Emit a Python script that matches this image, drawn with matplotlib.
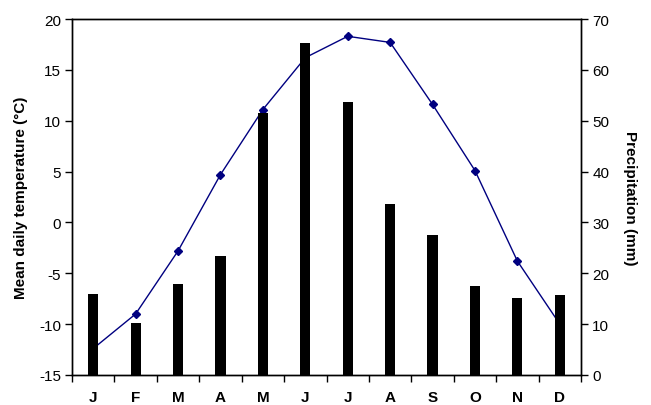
import matplotlib
matplotlib.use("Agg")
import matplotlib.pyplot as plt
import numpy as np

plt.rcParams['font.family'] = ['Liberation Sans', 'DejaVu Sans']
plt.rcParams['axes.unicode_minus'] = False

months = ["J", "F", "M", "A", "M", "J", "J", "A", "S", "O", "N", "D"]
temperature = [-12.4, -9.0, -2.8, 4.7, 11.1, 16.2, 18.3, 17.7, 11.6, 5.1, -3.8, -10.0]
precipitation = [16.0, 10.2, 17.9, 23.4, 51.5, 65.2, 53.7, 33.6, 27.5, 17.5, 15.1, 15.7]

fig = plt.figure(figsize=(6.51, 4.06), dpi=100)
ax1 = fig.add_axes([0.1106, 0.0739, 0.7819, 0.8768])
ax2 = ax1.twinx()

x = np.arange(len(months))
ax1.plot(x, temperature, color='#000080', lw=1.0, marker='D', markersize=4.5,
         markerfacecolor='#000080', markeredgecolor='#000080')
ax2.bar(x, precipitation, width=0.24, color='black', zorder=3)

ax1.set_xlim(-0.5, 11.5)
ax1.set_ylim(-15, 20)
ax1.set_yticks(np.arange(-15, 21, 5))
ax2.set_ylim(0, 70)
ax2.set_yticks(np.arange(0, 71, 10))

ax1.set_xticks(x)
ax1.set_xticklabels(months, fontweight='bold', fontsize=11)
ax1.set_xticks(np.arange(-0.5, 12, 1), minor=True)
ax1.tick_params(axis='x', which='major', length=0, pad=11)
ax1.tick_params(axis='x', which='minor', length=5, direction='out', width=1)
ax1.tick_params(axis='y', length=5, direction='out', labelsize=11, width=1, pad=3)
ax2.tick_params(axis='y', length=5, direction='out', labelsize=11, width=1, pad=3)

ax1.set_ylabel('Mean daily temperature (°C)', fontweight='bold', fontsize=11, labelpad=8)
ax2.set_ylabel('Precipitation (mm)', fontweight='bold', fontsize=11, rotation=270, labelpad=20)

for ax in (ax1, ax2):
    for s in ax.spines.values():
        s.set_linewidth(1.0)
        s.set_color('black')

fig.savefig('out.png', dpi=100)
